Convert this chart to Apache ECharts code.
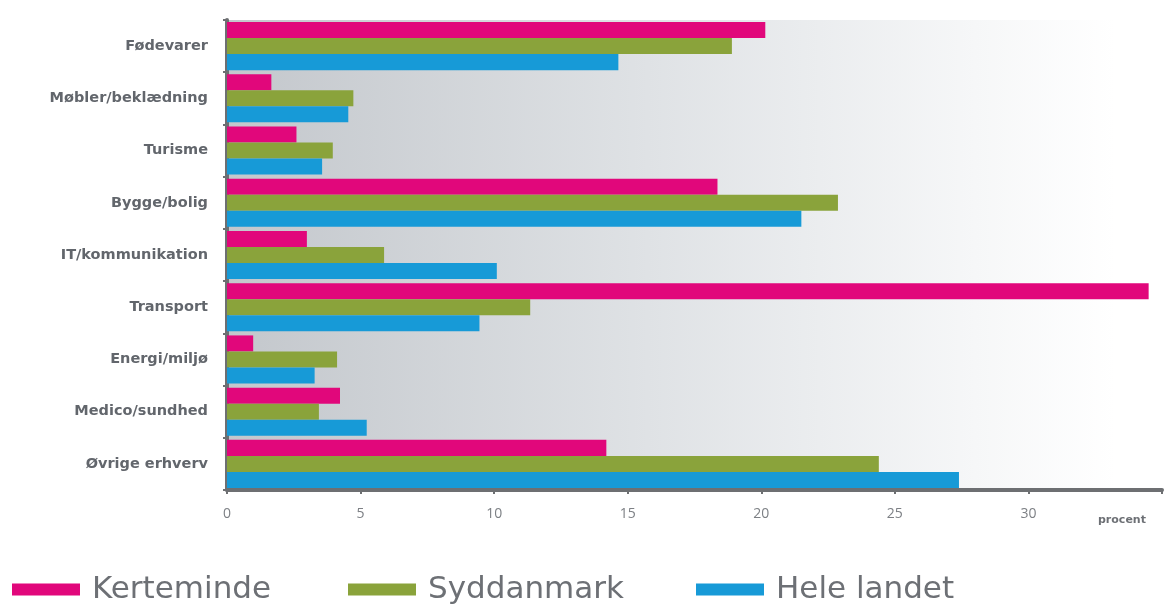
<!DOCTYPE html>
<html>
<head>
<meta charset="utf-8">
<script src="https://cdn.jsdelivr.net/npm/echarts@6/dist/echarts.min.js"></script>
<style>
html,body{margin:0;padding:0;background:#ffffff;}
#chart{width:1165px;height:608px;}
</style>
</head>
<body>
<div id="chart"></div>
<script>
const categories = ['Fødevarer','Møbler/beklædning','Turisme','Bygge/bolig','IT/kommunikation','Transport','Energi/miljø','Medico/sundhed','Øvrige erhverv'];
const seriesNames = ['Kerteminde','Syddanmark','Hele landet'];
const kerteminde = [20.15, 1.66, 2.6, 18.36, 2.99, 34.5, 0.98, 4.23, 14.2];
const syddanmark = [18.9, 4.73, 3.96, 22.87, 5.88, 11.35, 4.12, 3.44, 24.4];
const heleLandet = [14.65, 4.54, 3.56, 21.5, 10.1, 9.45, 3.28, 5.23, 27.4];
const xTicks = [0, 5, 10, 15, 20, 25, 30];
const colors = ['#e1077b', '#8aa33b', '#179ad7'];

const chart = echarts.init(document.getElementById('chart'), null, {renderer: 'canvas'});
const values = [kerteminde, syddanmark, heleLandet];
const legendLeft = [12, 348, 696];

const option = {
  animation: false,
  grid: {
    left: 227, right: 0, top: 20, bottom: 118,
    show: true,
    borderWidth: 0,
    backgroundColor: new echarts.graphic.LinearGradient(0, 0, 1, 0, [
      {offset: 0, color: '#c3c7cc'},
      {offset: 0.45, color: '#dfe2e5'},
      {offset: 0.8, color: '#f6f7f8'},
      {offset: 0.95, color: '#ffffff'},
      {offset: 1, color: '#ffffff'}
    ])
  },
  xAxis: {
    type: 'value', min: 0, max: 35, interval: 5,
    axisLine: {show: true, lineStyle: {color: '#6d6f72', width: 4}},
    axisTick: {show: true, length: 4, lineStyle: {color: '#6d6f72', width: 2}},
    splitLine: {show: false},
    axisLabel: {
      margin: 17, color: '#7d8085', fontSize: 14, fontFamily: 'Open Sans',
      formatter: function (v) { return xTicks.indexOf(v) >= 0 ? String(v) : ''; }
    }
  },
  yAxis: {
    type: 'category', data: categories, inverse: true,
    axisLine: {show: true, lineStyle: {color: '#6d6f72', width: 4}},
    axisTick: {show: true, length: 4, lineStyle: {color: '#6d6f72', width: 2}},
    axisLabel: {margin: 19, color: '#62666c', fontSize: 14.5, fontWeight: 'bold', fontFamily: 'DejaVu Sans'}
  },
  legend: seriesNames.map(function (n, i) {
    return {
      data: [n], left: legendLeft[i], top: 574, padding: 0,
      itemWidth: 68, itemHeight: 12, icon: 'rect',
      textStyle: {fontSize: 31, color: '#6d7075', fontFamily: 'DejaVu Sans', padding: [0, 0, 0, 7]},
      selectedMode: false
    };
  }),
  graphic: [{
    type: 'text', left: 1098, top: 515,
    style: {text: 'procent', fill: '#6d7075', fontSize: 11, fontWeight: 'bold', fontFamily: 'DejaVu Sans'}
  }],
  series: seriesNames.map(function (n, i) {
    return {
      name: n, type: 'bar', data: values[i],
      itemStyle: {color: colors[i]},
      barGap: '0%', barCategoryGap: '8%'
    };
  })
};
chart.setOption(option);
</script>
</body>
</html>
